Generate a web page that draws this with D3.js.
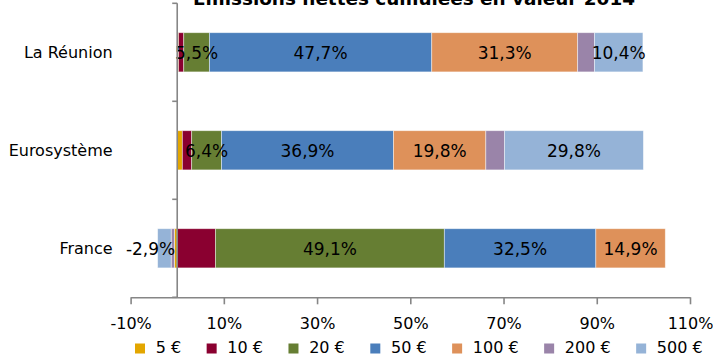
<!DOCTYPE html>
<html>
<head>
<meta charset="utf-8">
<script src="https://cdn.jsdelivr.net/npm/d3@7"></script>
<style>
  body { margin: 0; background: #fff; }
  svg { display: block; font-family: "DejaVu Sans", Verdana, sans-serif; }
</style>
</head>
<body>
<svg id="chart" width="713" height="356"></svg>
<script>
// ---- data (in %) ----
let categories = ["La Réunion", "Eurosystème", "France"];
let seriesNames = ["5 €", "10 €", "20 €", "50 €", "100 €", "200 €", "500 €"];
let seriesColors = ["#E3A600", "#8A0030", "#667E33", "#4A7EBB", "#DE915A", "#9A84A9", "#95B3D7"];

let v5   = [0.3, 1.1, -0.6];
let v10  = [1.1, 2.0, 8.2];
let v20  = [5.5, 6.4, 49.1];
let v50  = [47.7, 36.9, 32.5];
let v100 = [31.3, 19.8, 14.9];
let v200 = [3.6, 4.0, -0.7];
let v500 = [10.4, 29.8, -2.9];

let tickValues = [-10, 10, 30, 50, 70, 90, 110];
let labelledSeries = ["20 €", "50 €", "100 €", "500 €"];
let title = "Emissions nettes cumulées en valeur 2014";

let seriesValues = [v5, v10, v20, v50, v100, v200, v500];

// rows for d3.stack
let rows = categories.map((c, i) => {
    let r = { cat: c };
    seriesNames.forEach((s, j) => { r[s] = seriesValues[j][i]; });
    return r;
});

let svg = d3.select("#chart");

let x = d3.scaleLinear().domain([-10, 110]).range([130.6, 690]);
let y = d3.scaleBand().domain(categories).range([3.3, 297.3])
    .paddingInner(0.6).paddingOuter(0.3);
let color = d3.scaleOrdinal().domain(seriesNames).range(seriesColors);

let stacked = d3.stack()
    .keys(seriesNames)
    .offset(d3.stackOffsetDiverging)(rows);

let fmt = d3.format(".1f");
let pct = v => fmt(v).replace(".", ",").replace("−", "-") + "%";

// ---- bars ----
let layers = svg.append("g").selectAll("g")
    .data(stacked)
    .enter().append("g")
    .attr("fill", d => color(d.key));

layers.selectAll("rect")
    .data(d => d)
    .enter().append("rect")
    .attr("x", d => x(Math.min(d[0], d[1])))
    .attr("y", d => y(d.data.cat))
    .attr("width", d => Math.abs(x(d[1]) - x(d[0])))
    .attr("height", y.bandwidth())
    .attr("stroke", "#fff")
    .attr("stroke-opacity", 0.55)
    .attr("stroke-width", 0.8);

// ---- value labels ----
let labelData = [];
stacked.forEach(layer => {
    if (labelledSeries.indexOf(layer.key) < 0) return;
    layer.forEach(d => {
        let v = d.data[layer.key];
        labelData.push({ v: v, cat: d.data.cat, a: d[0], b: d[1] });
    });
});

svg.append("g").selectAll("text")
    .data(labelData)
    .enter().append("text")
    .attr("x", d => d.v < 0 ? x(0) - 2 : x((d.a + d.b) / 2))
    .attr("y", d => y(d.cat) + y.bandwidth() / 2)
    .attr("dy", "0.38em")
    .attr("text-anchor", d => d.v < 0 ? "end" : "middle")
    .style("font-size", "17px")
    .attr("fill", "#000")
    .text(d => pct(d.v));

// ---- value axis ----
let xAxis = svg.append("g")
    .attr("transform", "translate(0," + 297.3 + ")")
    .call(d3.axisBottom(x).tickValues(tickValues).tickSize(7).tickSizeOuter(0)
        .tickPadding(13).tickFormat(d => d + "%"));
xAxis.select(".domain").attr("stroke", "#868686").attr("stroke-width", 1.6);
xAxis.selectAll(".tick line").attr("stroke", "#868686").attr("stroke-width", 1.6);
xAxis.selectAll(".tick text")
    .style("font-size", "16px")
    .style("font-family", "DejaVu Sans, Verdana, sans-serif")
    .attr("fill", "#000");

// ---- category axis (at zero) ----
let cat = svg.append("g").attr("stroke", "#868686").attr("stroke-width", 1.6);
let y0 = y.range()[0], y1 = y.range()[1];
cat.append("line")
    .attr("x1", x(0)).attr("x2", x(0))
    .attr("y1", y0).attr("y2", y1);
d3.range(categories.length + 1).forEach(i => {
    let yy = y0 + i * y.step();
    cat.append("line")
        .attr("x1", x(0) - 5).attr("x2", x(0))
        .attr("y1", yy).attr("y2", yy);
});

svg.append("g").selectAll("text")
    .data(categories)
    .enter().append("text")
    .attr("x", x(-10) - 18)
    .attr("y", d => y(d) + y.bandwidth() / 2)
    .attr("dy", "0.38em")
    .attr("text-anchor", "end")
    .style("font-size", "16px")
    .text(d => d);

// ---- title (cut at top edge, as in the original) ----
svg.append("text")
    .attr("x", 414)
    .attr("y", 5)
    .attr("text-anchor", "middle")
    .style("font-size", "17px")
    .style("font-weight", "bold")
    .attr("textLength", 442)
    .attr("lengthAdjust", "spacingAndGlyphs")
    .text(title);

// ---- legend ----
let legend = svg.append("g");
let lx = 135;
seriesNames.forEach(s => {
    legend.append("rect")
        .attr("x", lx).attr("y", 343.5)
        .attr("width", 10).attr("height", 10)
        .attr("fill", color(s));
    let t = legend.append("text")
        .attr("x", lx + 20.7).attr("y", 353.2)
        .style("font-size", "16px")
        .text(s);
    lx += 20.7 + t.node().getComputedTextLength() + 25.5;
});
</script>
</body>
</html>
